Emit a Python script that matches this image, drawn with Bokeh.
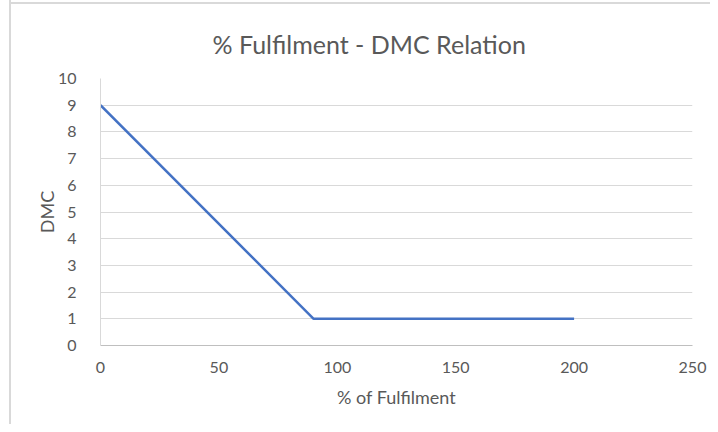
from bokeh.plotting import figure
from bokeh.models import FixedTicker, Range1d
from bokeh.embed import file_html
from bokeh.resources import INLINE

fulfilment = [0, 90, 200]
dmc = [9, 1, 1]
x_ticks = [0, 50, 100, 150, 200, 250]
y_ticks = [0, 1, 2, 3, 4, 5, 6, 7, 8, 9, 10]

FONT = "Lato"
TXT = "#595959"

p = figure(width=710, height=424, output_backend="svg", toolbar_location=None,
           x_range=Range1d(0, 250), y_range=Range1d(0, 10),
           title="% Fulfilment - DMC Relation",
           min_border_left=100, min_border_right=18, min_border_top=78, min_border_bottom=79)
p.styles = {
    "background": "linear-gradient(to right, white 9px, #d9d9d9 9px, #d9d9d9 11px, transparent 11px), "
                  "linear-gradient(to bottom, white 2px, #d9d9d9 2px, #d9d9d9 4px, white 4px)"
}
p.outline_line_color = None
p.background_fill_color = "white"
p.border_fill_color = None

p.title.text_font = FONT
p.title.text_font_size = "25px"
p.title.text_font_style = "normal"
p.title.text_color = TXT
p.title.align = "left"
p.title.offset = 112
p.title.standoff = 40

p.line(fulfilment, dmc, line_color="#4472C4", line_width=2.5)

p.xaxis.ticker = FixedTicker(ticks=x_ticks)
p.yaxis.ticker = FixedTicker(ticks=y_ticks)
p.xgrid.grid_line_color = None
p.ygrid.grid_line_color = "#d9d9d9"
p.ygrid.grid_line_width = 1

for ax in (p.xaxis, p.yaxis):
    ax.major_tick_line_color = None
    ax.minor_tick_line_color = None
    ax.major_label_text_font = FONT
    ax.major_label_text_font_size = "16px"
    ax.major_label_text_color = TXT
    ax.axis_label_text_font = FONT
    ax.axis_label_text_font_size = "18px"
    ax.axis_label_text_font_style = "normal"
    ax.axis_label_text_color = TXT
p.xaxis.axis_line_color = "#bfbfbf"
p.yaxis.axis_line_color = "#d9d9d9"
p.xaxis.major_label_standoff = 10
p.yaxis.major_label_standoff = 18
p.xaxis.axis_label = "% of Fulfilment"
p.yaxis.axis_label = "DMC"
p.xaxis.axis_label_standoff = 10
p.yaxis.axis_label_standoff = -3

open("out.html", "w").write(file_html(p, INLINE))
